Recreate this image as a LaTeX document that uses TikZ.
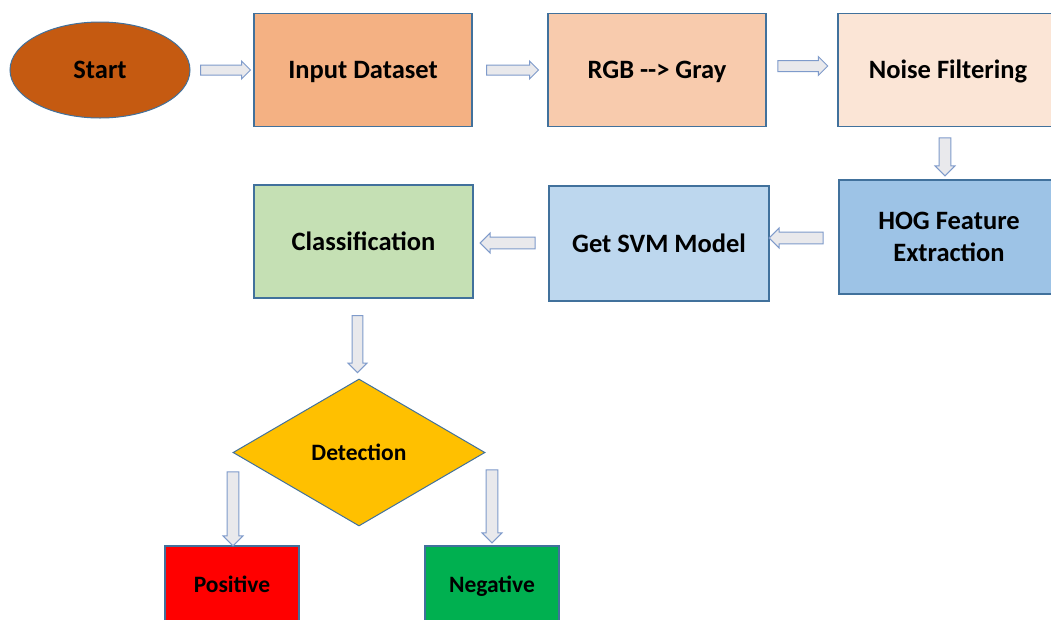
\documentclass[tikz,border=0pt]{standalone}
\usepackage{fontspec}
\setmainfont{Carlito}
\usetikzlibrary{shapes.geometric,shapes.arrows}
\definecolor{bordc}{HTML}{41719C}
\definecolor{arrc}{HTML}{7F9BCB}
\definecolor{arrf}{HTML}{E9E9EC}
\definecolor{cstart}{HTML}{C55A11}
\definecolor{cinput}{HTML}{F4B183}
\definecolor{crgb}{HTML}{F8CBAD}
\definecolor{cnoise}{HTML}{FBE5D6}
\definecolor{chog}{HTML}{9DC3E6}
\definecolor{csvm}{HTML}{BDD7EE}
\definecolor{cclass}{HTML}{C5E0B4}
\definecolor{cdet}{HTML}{FFC000}
\definecolor{cpos}{HTML}{FF0000}
\definecolor{cneg}{HTML}{00B050}
\tikzset{
  bigfont/.style={font=\fontsize{26.5}{32}\selectfont\bfseries},
  smallfont/.style={font=\fontsize{23.5}{28}\selectfont\bfseries},
  onebig/.style={text height=17pt, text depth=0pt},
  onesmall/.style={text height=15pt, text depth=0pt},
  stepbox/.style={draw=bordc, line width=1.2pt, rectangle, minimum width=218, minimum height=113,
    inner sep=2pt, align=center, bigfont, text=black},
  smallbox/.style={draw=bordc, line width=1.2pt, rectangle, minimum width=134, minimum height=78,
    inner sep=2pt, align=center, smallfont, onesmall, text=black},
  blockarrow/.style={single arrow, draw=arrc, fill=arrf, line width=1pt, inner xsep=0pt, inner ysep=5pt,
    minimum width=18, single arrow head extend=4pt, single arrow head indent=0pt},
}
\begin{document}
\begin{tikzpicture}[x=1pt,y=-1pt]
\clip (0,0) rectangle (1051,619);
\fill[white] (0,0) rectangle (1051,619);
% nodes
\node[ellipse, draw=bordc, line width=1pt, fill=cstart, minimum width=180, minimum height=96,
  bigfont, onebig] (start) at (100,70) {Start};
\node[stepbox, onebig, fill=cinput] (input) at (363,70) {Input Dataset};
\node[stepbox, onebig, fill=crgb] (rgb) at (657,70) {RGB -{}-> Gray};
\node[stepbox, onebig, fill=cnoise, minimum width=220] (noise) at (948,70) {Noise Filtering};
\node[stepbox, fill=chog, minimum width=220, minimum height=114] (hog) at (949,237) {HOG Feature\\Extraction};
\node[stepbox, onebig, fill=csvm, minimum width=220, minimum height=115] (svm) at (659,243.5) {Get SVM Model};
\node[stepbox, onebig, fill=cclass, minimum width=219, minimum height=113] (class) at (363.5,241.5) {Classification};
\node[diamond, draw=bordc, line width=1pt, fill=cdet, minimum width=252, minimum height=147, inner sep=0pt,
  smallfont, onesmall] (det) at (359,452.5) {Detection};
\node[smallbox, fill=cpos] (pos) at (232,585) {Positive};
\node[smallbox, fill=cneg] (neg) at (492,585) {Negative};
% block arrows
\node[blockarrow, inner ysep=4.5pt, minimum height=50, minimum width=16] (a1) at (223,70) {};
\node[blockarrow, inner ysep=4.5pt, minimum height=52, minimum width=16] (a2) at (510,70) {};
\node[blockarrow, minimum height=50] (a3) at (800,66) {};
\node[blockarrow, minimum height=38, minimum width=20, rotate=-90] (a4) at (945,154) {};
\node[blockarrow, minimum height=54, minimum width=20, rotate=180] (a5) at (799,238) {};
\node[blockarrow, minimum height=55, minimum width=20, rotate=180] (a6) at (510.5,243) {};
\node[blockarrow, inner ysep=4.5pt, minimum height=57, minimum width=19, rotate=-90] (a7) at (357.5,341.5) {};
\node[blockarrow, minimum height=74, minimum width=20, rotate=-90] (a8) at (233,506) {};
\node[blockarrow, minimum height=73, minimum width=20, rotate=-90] (a9) at (492,503.5) {};
\end{tikzpicture}
\end{document}
